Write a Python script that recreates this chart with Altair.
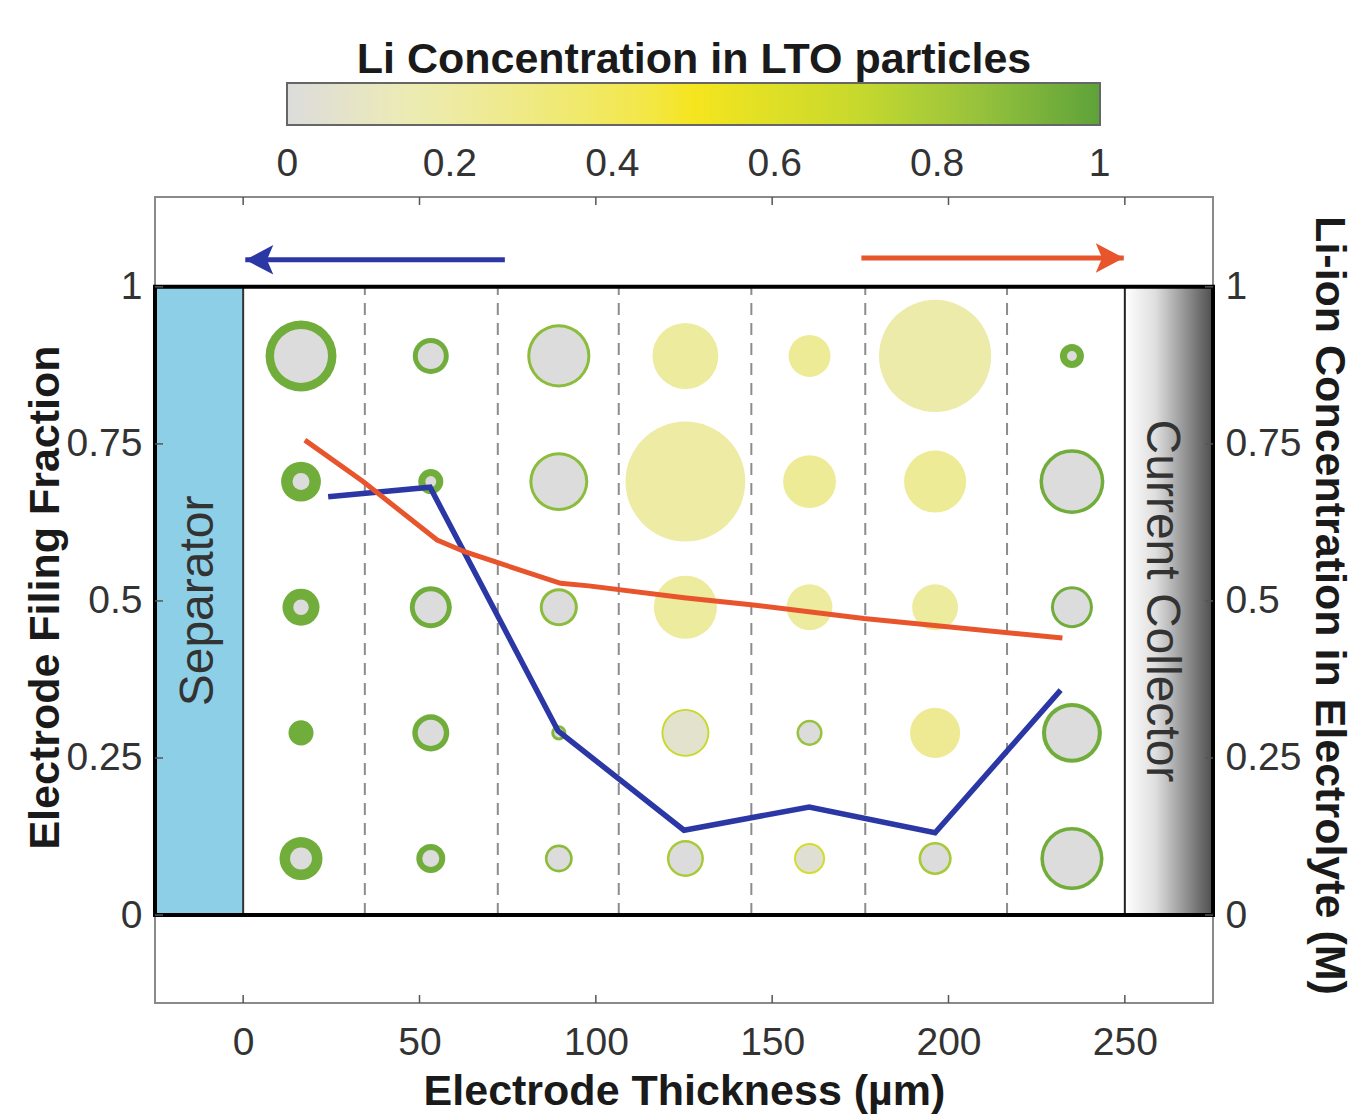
import altair as alt
import pandas as pd

# ---------------- data ----------------
x_ticks = [0, 50, 100, 150, 200, 250]
y_ticks = [0, 0.25, 0.5, 0.75, 1]
cbar_ticks = [0, 0.2, 0.4, 0.6, 0.8, 1]

region_names = ["Separator", "Current Collector"]
region_x0 = [-25, 250]
region_x1 = [0, 275]
region_y0 = [0, 0]
region_y1 = [1, 1]

boundaries = [34.5, 72.2, 106.5, 144.1, 176.4, 216.6]

col_x = [16.4, 53.2, 89.5, 125.4, 160.6, 196.2, 235.0]
row_y = [0.89, 0.69, 0.49, 0.29, 0.09]

# particle diameters (um), per column, top row first
diam_by_col = [
    [20.1, 11.3, 10.5, 7.1, 12.2],
    [10.2, 7.1, 11.9, 10.5, 8.2],
    [17.9, 16.7, 10.8, 4.3, 7.9],
    [18.7, 34.0, 17.9, 13.6, 10.5],
    [11.9, 15.0, 13.0, 7.4, 8.8],
    [31.8, 17.6, 13.0, 14.2, 9.4],
    [6.8, 18.4, 11.9, 17.0, 17.9],
]
# unlithiated core diameters (um)
core_by_col = [
    [15.3, 4.8, 4.4, 0.0, 6.2],
    [7.4, 3.1, 9.1, 7.4, 4.8],
    [16.2, 15.0, 9.1, 2.6, 6.4],
    [0.0, 0.0, 0.0, 12.5, 9.1],
    [0.0, 0.0, 0.0, 6.0, 7.7],
    [0.0, 0.0, 0.0, 0.0, 7.9],
    [2.8, 16.4, 10.2, 14.7, 15.9],
]
# Li concentration of shell / core
shell_c_by_col = [
    [0.95, 0.95, 0.95, 0.95, 0.95],
    [0.95, 0.95, 0.95, 0.95, 0.95],
    [0.88, 0.88, 0.88, 0.9, 0.88],
    [0.22, 0.2, 0.22, 0.7, 0.8],
    [0.24, 0.24, 0.22, 0.85, 0.65],
    [0.18, 0.24, 0.22, 0.25, 0.8],
    [0.95, 0.95, 0.95, 0.95, 0.95],
]
core_c_by_col = [
    [0, 0, 0, 0, 0],
    [0, 0, 0, 0, 0],
    [0, 0, 0, 0, 0],
    [0, 0, 0, 0.06, 0],
    [0, 0, 0, 0, 0.03],
    [0, 0, 0, 0, 0],
    [0, 0, 0, 0, 0],
]

filling_x = [24.1, 53.0, 89.3, 125.0, 160.5, 196.2, 231.8]
filling_y = [0.666, 0.681, 0.293, 0.135, 0.172, 0.131, 0.358]

electrolyte_x = [17.5, 34.0, 55.0, 63.0, 90.0, 98.0, 125.0, 144.0, 176.0, 232.3]
electrolyte_y = [0.756, 0.690, 0.597, 0.578, 0.528, 0.524, 0.505, 0.494, 0.472, 0.441]

arrow_from = [74.2, 175.3]
arrow_to = [0.6, 249.7]
arrow_y = [1.043, 1.046]

cmap_stops = [0, 0.15, 0.3, 0.5, 0.7, 0.85, 1]
cmap_colors = ["#dcdcdc", "#ecebb4", "#efea82", "#f5e51f", "#c8d92d", "#98c23c", "#5ea23a"]

# ---------------- layout ----------------
W, H = 1058, 806
XDOM = [-25, 275]
YDOM = [-0.14, 1.143]
PXU = W / (XDOM[1] - XDOM[0])
PYU = H / (YDOM[1] - YDOM[0])
TICK = 8  # inward tick length, px
FONT = "Liberation Sans"
BLUE = "#2c37a6"
RED = "#e8542c"

X = alt.Scale(domain=XDOM, nice=False, zero=False)
Y = alt.Scale(domain=YDOM, nice=False, zero=False)
# tiny pad so the end labels of the colour bar are centred on their values
cdom = [cmap_stops[0] - 0.0005] + cmap_stops[1:-1] + [cmap_stops[-1] + 0.0005]
C = alt.Scale(domain=cdom, range=cmap_colors, type="linear")
S = alt.Scale(type="pow", exponent=2, domain=[0, 40], range=[0, (40 * PXU) ** 2])

regions = pd.DataFrame({"name": region_names, "x0": region_x0, "x1": region_x1,
                        "y0": region_y0, "y1": region_y1,
                        "xm": [(a + b) / 2 for a, b in zip(region_x0, region_x1)],
                        "ym": [(a + b) / 2 for a, b in zip(region_y0, region_y1)]})
frame = pd.DataFrame({"x0": [region_x0[0]], "x1": [region_x1[-1]], "y0": [0], "y1": [1]})
bnd = pd.DataFrame({"x": boundaries, "y0": 0, "y1": 1})

rows = []
for ci, cx in enumerate(col_x):
    for ri, ry in enumerate(row_y):
        rows.append({"x": cx, "y": ry, "d": diam_by_col[ci][ri], "dc": core_by_col[ci][ri],
                     "cs": shell_c_by_col[ci][ri], "cc": core_c_by_col[ci][ri]})
parts = pd.DataFrame(rows)

fill_df = pd.DataFrame({"x": filling_x, "y": filling_y})
elec_df = pd.DataFrame({"x": electrolyte_x, "y": electrolyte_y})
arrows = pd.DataFrame({"x0": arrow_from, "x1": arrow_to, "y": arrow_y})

# inward ticks on the outer frame (MATLAB style)
dy = TICK / PYU
dx = TICK / PXU
xt = pd.DataFrame(
    [{"x": v, "y0": YDOM[0], "y1": YDOM[0] + dy} for v in x_ticks]
    + [{"x": v, "y0": YDOM[1], "y1": YDOM[1] - dy} for v in x_ticks])
yt = pd.DataFrame(
    [{"y": v, "x0": XDOM[0], "x1": XDOM[0] + dx} for v in y_ticks]
    + [{"y": v, "x0": XDOM[1], "x1": XDOM[1] - dx} for v in y_ticks])

x_axis = alt.Axis(values=x_ticks, title="Electrode Thickness (µm)", labelFontSize=39,
                  labelColor="#333333", titleFontSize=43, titleFontWeight="bold",
                  titleColor="#1a1a1a", ticks=False, domain=False, grid=False,
                  labelPadding=20, titlePadding=8)
yl_axis = alt.Axis(values=y_ticks, format=".2~f", title="Electrode Filing Fraction",
                   labelFontSize=39, labelColor="#333333", titleFontSize=43,
                   titleFontWeight="bold", titleColor="#1a1a1a", ticks=False, domain=False,
                   grid=False, labelPadding=13, titleAngle=-90, titleX=-110, titleY=400,
                   titleAlign="center", titleBaseline="middle")
yr_axis = alt.Axis(values=y_ticks, format=".2~f", orient="right",
                   title="Li-ion Concentration in Electrolyte (M)",
                   labelFontSize=39, labelColor="#333333", titleFontSize=43,
                   titleFontWeight="bold", titleColor="#1a1a1a", ticks=False, domain=False,
                   grid=False, labelPadding=12, titleAngle=90, titleX=115, titleY=408,
                   titleAlign="center", titleBaseline="middle")

XE = lambda f: alt.X(f, scale=X, axis=x_axis)
NOAX_Y = lambda f: alt.Y(f, scale=Y, axis=None)

legend = alt.Legend(
    title="Li Concentration in LTO particles", orient="none", legendX=132, legendY=-158,
    direction="horizontal", gradientLength=813, gradientThickness=42,
    values=cbar_ticks, format=".1~f", labelFontSize=39, labelColor="#333333",
    labelOffset=20, labelOverlap=False,
    titleFontSize=43, titleFontWeight="bold", titleColor="#1a1a1a", titleAnchor="middle",
    titlePadding=1, titleLimit=2000, gradientStrokeColor="#666666", gradientStrokeWidth=2,
)

sep = alt.Chart(regions[regions.name == "Separator"]).mark_rect(
    fill="#8dcfe6", stroke="#333333", strokeWidth=2
).encode(x=XE("x0:Q"), x2="x1:Q",
         y=alt.Y("y0:Q", scale=Y, axis=yl_axis), y2="y1:Q")

grad = alt.LinearGradient(gradient="linear", x1=0, x2=1, y1=0, y2=0,
                          stops=[alt.GradientStop(color="#ffffff", offset=0),
                                 alt.GradientStop(color="#dedede", offset=0.35),
                                 alt.GradientStop(color="#4d4d4d", offset=1)])
coll = alt.Chart(regions[regions.name == "Current Collector"]).mark_rect(
    color=grad, stroke="#222222", strokeWidth=2
).encode(x=XE("x0:Q"), x2="x1:Q", y=NOAX_Y("y0:Q"), y2="y1:Q")

dashes = alt.Chart(bnd).mark_rule(strokeDash=[12, 8], color="#8c8c8c", strokeWidth=2).encode(
    x=XE("x:Q"), y=NOAX_Y("y0:Q"), y2="y1:Q")

outer = alt.Chart(parts).mark_circle(opacity=1).encode(
    x=XE("x:Q"), y=NOAX_Y("y:Q"),
    size=alt.Size("d:Q", scale=S, legend=None),
    color=alt.Color("cs:Q", scale=C, legend=legend))
inner = alt.Chart(parts).mark_circle(opacity=1).encode(
    x=XE("x:Q"), y=NOAX_Y("y:Q"),
    size=alt.Size("dc:Q", scale=S, legend=None),
    color=alt.Color("cc:Q", scale=C, legend=legend))

blue_line = alt.Chart(fill_df).mark_line(color=BLUE, strokeWidth=5.5).encode(
    x=XE("x:Q"), y=NOAX_Y("y:Q"))
red_line = alt.Chart(elec_df).mark_line(color=RED, strokeWidth=5).encode(
    x=XE("x:Q"), y=alt.Y("y:Q", scale=Y, axis=yr_axis))

box = alt.Chart(frame).mark_rect(fillOpacity=0, stroke="black", strokeWidth=4).encode(
    x=XE("x0:Q"), x2="x1:Q", y=NOAX_Y("y0:Q"), y2="y1:Q")

xticks_l = alt.Chart(xt).mark_rule(color="#555555", strokeWidth=1.5).encode(
    x=XE("x:Q"), y=NOAX_Y("y0:Q"), y2="y1:Q")
yticks_l = alt.Chart(yt).mark_rule(color="#555555", strokeWidth=1.5).encode(
    x=XE("x0:Q"), x2="x1:Q", y=NOAX_Y("y:Q"))

LEFT_HEAD = "M0,0L2,-1.05L1.55,0L2,1.05Z"
RIGHT_HEAD = "M0,0L-2,-1.05L-1.55,0L-2,1.05Z"
a_blue = alt.Chart(arrows.iloc[[0]])
a_red = alt.Chart(arrows.iloc[[1]])
blue_shaft = a_blue.mark_rule(color=BLUE, strokeWidth=5).encode(
    x=XE("x0:Q"), x2="x1:Q", y=NOAX_Y("y:Q"))
red_shaft = a_red.mark_rule(color=RED, strokeWidth=5).encode(
    x=XE("x0:Q"), x2="x1:Q", y=NOAX_Y("y:Q"))
blue_head = a_blue.mark_point(shape=LEFT_HEAD, size=784, filled=True, color=BLUE,
                              opacity=1, strokeWidth=0).encode(x=XE("x1:Q"), y=NOAX_Y("y:Q"))
red_head = a_red.mark_point(shape=RIGHT_HEAD, size=784, filled=True, color=RED,
                            opacity=1, strokeWidth=0).encode(x=XE("x1:Q"), y=NOAX_Y("y:Q"))

sep_text = alt.Chart(regions[regions.name == "Separator"]).mark_text(
    angle=270, fontSize=48, color="#333333", align="center", baseline="middle"
).encode(x=XE("xm:Q"), y=NOAX_Y("ym:Q"), text="name:N")
coll_text = alt.Chart(regions[regions.name == "Current Collector"]).mark_text(
    angle=90, fontSize=48, color="#333333", align="center", baseline="middle", dy=8
).encode(x=XE("xm:Q"), y=NOAX_Y("ym:Q"), text="name:N")

chart = alt.layer(
    sep, coll, dashes, outer, inner, blue_line, red_line, box, xticks_l, yticks_l,
    blue_shaft, red_shaft, blue_head, red_head, sep_text, coll_text
).resolve_axis(y="independent").properties(
    width=W, height=H,
    autosize=alt.AutoSizeParams(type="none"),
    padding={"left": 155, "top": 197, "right": 141, "bottom": 113},
    background="white",
).configure(font=FONT).configure_view(stroke="#8a8a8a", strokeWidth=2)

chart.save("out.html", embed_options={"renderer": "svg", "actions": False})
